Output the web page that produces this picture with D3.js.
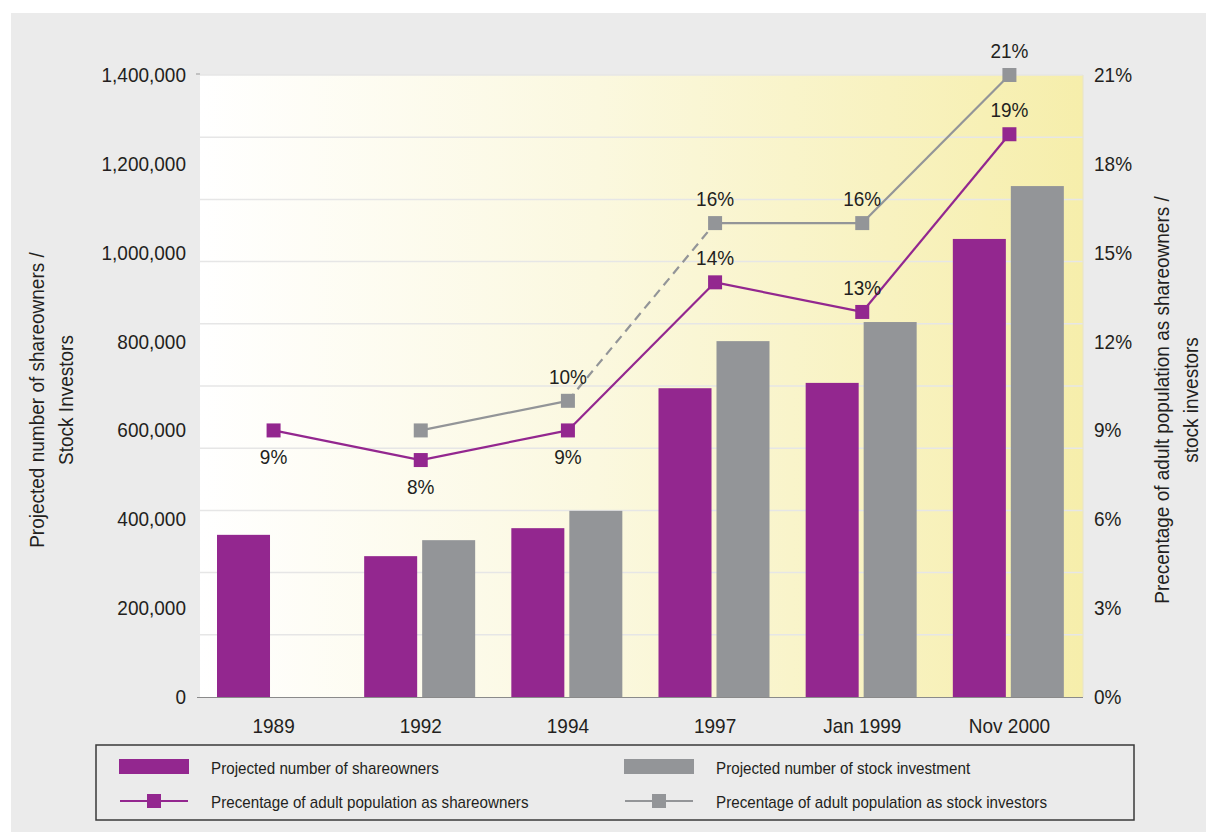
<!DOCTYPE html>
<html><head><meta charset="utf-8">
<script src="https://cdn.jsdelivr.net/npm/d3@7"></script>
<style>html,body{margin:0;padding:0;background:#fff;}svg{display:block;font-family:"Liberation Sans",Arial,sans-serif;}</style>
</head><body>
<svg id="chart" width="1206" height="832"></svg>
<script>
// ---- data ----
const categories = ["1989", "1992", "1994", "1997", "Jan 1999", "Nov 2000"];
const shareowners = [365000, 317000, 380000, 695000, 707000, 1031000];
const stockInvestors = [0, 353000, 419000, 801000, 844000, 1150000];
const pctShareowners = [9, 8, 9, 14, 13, 19];
const pctInvestors = [null, 9, 10, 16, 16, 21];
const investorLabelShown = [false, false, true, true, true, true];
const shareownerLabelBelow = [true, true, true, false, false, false];
const dashedSegmentFrom = "1994";
const leftTicks = [0, 200000, 400000, 600000, 800000, 1000000, 1200000, 1400000];
const rightTicks = [0, 3, 6, 9, 12, 15, 18, 21];
const seriesNames = ["Projected number of shareowners", "Projected number of stock investment",
  "Precentage of adult population as shareowners", "Precentage of adult population as stock investors"];
const leftTitle = ["Projected number of shareowners /", "Stock Investors"];
const rightTitle = ["Precentage of adult population as shareowners /", "stock investors"];

// ---- layout ----
const PURPLE = "#93278f", GREY = "#939598", INK = "#231f20";
const svg = d3.select("#chart");
const L = 200, R = 1083, T = 75, B = 697;
const FS = 20, SX = 0.95;

function txt(g, x, y, s, anchor, size, rot) {
  return g.append("text")
    .attr("transform", `translate(${x},${y})` + (rot ? ` rotate(${rot})` : "") + ` scale(${SX},1)`)
    .attr("text-anchor", anchor).attr("dy", "0.35em").attr("font-size", size).attr("fill", INK).text(s);
}

svg.append("rect").attr("x", 11).attr("y", 13).attr("width", 1195).attr("height", 819).attr("fill", "#ebebeb");

const defs = svg.append("defs");
const grad = defs.append("linearGradient").attr("id", "bg").attr("x1", "0").attr("x2", "1").attr("y1", "0").attr("y2", "0");
grad.append("stop").attr("offset", "0").attr("stop-color", "#ffffff");
grad.append("stop").attr("offset", "0.45").attr("stop-color", "#fbf8df");
grad.append("stop").attr("offset", "1").attr("stop-color", "#f6eeab");
svg.append("rect").attr("x", L).attr("y", T).attr("width", R - L).attr("height", B - T).attr("fill", "url(#bg)");

const x = d3.scaleBand().domain(categories).range([L, R]).padding(0);
const xSub = d3.scaleBand().domain(["s", "i"]).range([17, 128]).paddingInner(0.086);
const yL = d3.scaleLinear().domain([0, 1400000]).range([B, T]);
const yR = d3.scaleLinear().domain([0, 21]).range([B, T]);

// gridlines (10 equal divisions)
const gridVals = d3.range(1, 11).map(i => i * 140000);
svg.append("g").selectAll("line").data(gridVals).join("line")
  .attr("x1", L).attr("x2", R).attr("y1", d => yL(d)).attr("y2", d => yL(d))
  .attr("stroke", "#e6e6e6").attr("stroke-width", 1.5);
svg.append("line").attr("x1", R).attr("x2", R).attr("y1", T).attr("y2", B).attr("stroke", "#e8e4c8").attr("stroke-width", 1);

// bars
const barG = svg.append("g");
categories.forEach((c, i) => {
  barG.append("rect").attr("x", x(c) + xSub("s")).attr("width", xSub.bandwidth())
    .attr("y", yL(shareowners[i])).attr("height", B - yL(shareowners[i])).attr("fill", PURPLE);
  if (stockInvestors[i] > 0)
    barG.append("rect").attr("x", x(c) + xSub("i")).attr("width", xSub.bandwidth())
      .attr("y", yL(stockInvestors[i])).attr("height", B - yL(stockInvestors[i])).attr("fill", GREY);
});

// axis lines
svg.append("line").attr("x1", L - 3).attr("x2", R).attr("y1", B + 0.5).attr("y2", B + 0.5).attr("stroke", "#8a8a8a").attr("stroke-width", 1.2);
svg.append("line").attr("x1", L - 4).attr("x2", L).attr("y1", T - 1).attr("y2", T - 1).attr("stroke", "#999").attr("stroke-width", 1);

// tick labels
const tg = svg.append("g");
leftTicks.forEach(d => txt(tg, 186, yL(d), d3.format(",")(d), "end", FS));
rightTicks.forEach(d => txt(tg, 1094, yR(d), d + "%", "start", FS));
categories.forEach(d => txt(tg, x(d) + x.bandwidth() / 2, 726, d, "middle", FS));

// axis titles
txt(tg, 37, 400, leftTitle[0], "middle", FS, -90);
txt(tg, 66, 400, leftTitle[1], "middle", FS, -90);
txt(tg, 1162, 400, rightTitle[0], "middle", FS, -90);
txt(tg, 1191, 400, rightTitle[1], "middle", FS, -90);

// lines
const cx = c => x(c) + x.bandwidth() / 2;
function drawSeries(vals, color, dashFrom) {
  const g = svg.append("g");
  for (let i = 0; i < categories.length - 1; i++) {
    if (vals[i] == null || vals[i + 1] == null) continue;
    g.append("line").attr("x1", cx(categories[i])).attr("y1", yR(vals[i]))
      .attr("x2", cx(categories[i + 1])).attr("y2", yR(vals[i + 1]))
      .attr("stroke", color).attr("stroke-width", 2.2)
      .attr("stroke-dasharray", categories[i] === dashFrom ? "9,6" : null);
  }
  g.selectAll("rect").data(categories.map((c, i) => ({c, v: vals[i]})).filter(d => d.v != null)).join("rect")
    .attr("x", d => cx(d.c) - 7).attr("y", d => yR(d.v) - 7).attr("width", 14).attr("height", 14).attr("fill", color);
}
drawSeries(pctInvestors, GREY, dashedSegmentFrom);
drawSeries(pctShareowners, PURPLE, null);

// value labels
const lab = svg.append("g");
categories.forEach((c, i) => {
  if (pctInvestors[i] != null && investorLabelShown[i])
    txt(lab, cx(c), yR(pctInvestors[i]) - 24, pctInvestors[i] + "%", "middle", FS);
  txt(lab, cx(c), yR(pctShareowners[i]) + (shareownerLabelBelow[i] ? 27 : -24), pctShareowners[i] + "%", "middle", FS);
});

// legend
const lg = svg.append("g");
lg.append("rect").attr("x", 96).attr("y", 745).attr("width", 1038).attr("height", 75)
  .attr("fill", "none").attr("stroke", "#3a3a3a").attr("stroke-width", 1.5);
const legItems = [
  {type: "bar", color: PURPLE, x: 119, y: 767, name: seriesNames[0]},
  {type: "bar", color: GREY, x: 624, y: 767, name: seriesNames[1]},
  {type: "line", color: PURPLE, x: 119, y: 801, name: seriesNames[2]},
  {type: "line", color: GREY, x: 624, y: 801, name: seriesNames[3]}
];
legItems.forEach(d => {
  if (d.type === "bar") {
    lg.append("rect").attr("x", d.x).attr("y", d.y - 8).attr("width", 70).attr("height", 15).attr("fill", d.color);
  } else {
    lg.append("line").attr("x1", d.x + 1).attr("x2", d.x + 69).attr("y1", d.y).attr("y2", d.y).attr("stroke", d.color).attr("stroke-width", 2);
    lg.append("rect").attr("x", d.x + 28).attr("y", d.y - 7).attr("width", 14).attr("height", 14).attr("fill", d.color);
  }
  txt(lg, d.x + 92, d.y + 1, d.name, "start", 16);
});
</script>
</body></html>
